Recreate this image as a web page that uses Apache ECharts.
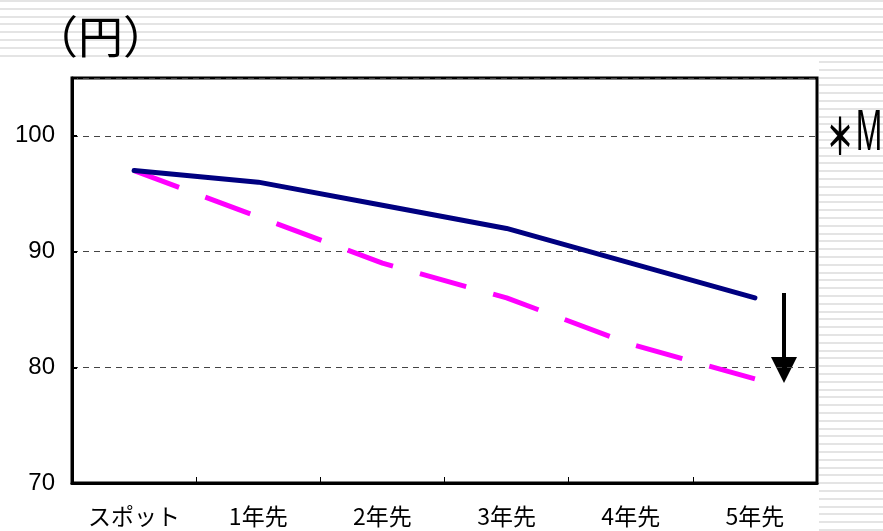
<!DOCTYPE html>
<html>
<head>
<meta charset="utf-8">
<script src="https://cdn.jsdelivr.net/npm/echarts@6/dist/echarts.min.js"></script>
<style>
  html, body { margin:0; padding:0; background:#fff; }
  #wrap { position:relative; width:883px; height:531px; overflow:hidden; }
  .stripes { position:absolute; background: repeating-linear-gradient(to bottom, #e4e4e4 0px, #e4e4e4 2px, #ffffff 2px, #ffffff 7.8px); }
  #top { left:0; top:0; width:883px; height:57px; }
  #right { left:819px; top:61px; width:64px; height:470px; }
  #chart { position:absolute; left:0; top:0; width:883px; height:531px; }
</style>
</head>
<body>
<div id="wrap">
  <div class="stripes" id="top"></div>
  <div class="stripes" id="right"></div>
  <div id="chart"></div>
</div>
<script>
const categories = ['スポット', '1年先', '2年先', '3年先', '4年先', '5年先'];
const seriesSolid = [97, 96, 94, 92, 89, 86];
const seriesDashed = [97, 93, 89, 86, 82, 79];
const yTicks = [70, 80, 90, 100];

const chart = echarts.init(document.getElementById('chart'), null, { renderer: 'canvas' });
const option = {
  backgroundColor: 'transparent',
  animation: false,
  grid: { left: 72, right: 66, top: 78, bottom: 48, show: true, backgroundColor: '#fff', borderColor: '#000', borderWidth: 3 },
  xAxis: {
    type: 'category',
    data: categories,
    boundaryGap: true,
    axisLine: { show: true, lineStyle: { color: '#000', width: 3 } },
    axisTick: { show: true, inside: true, length: 6, lineStyle: { color: '#000', width: 1 } },
    axisLabel: { color: '#000', fontSize: 23, fontFamily: '"Noto Sans CJK JP", sans-serif', margin: 22 },
    splitLine: { show: false }
  },
  yAxis: {
    type: 'value',
    min: 70, max: 105, interval: 10,
    axisLine: { show: true, lineStyle: { color: '#000', width: 3 } },
    axisTick: { show: true, inside: true, length: 5, lineStyle: { color: '#000', width: 2 } },
    axisLabel: {
      color: '#000', fontSize: 24, fontFamily: '"Liberation Sans", Arial, sans-serif', margin: 17,
      formatter: v => (yTicks.indexOf(v) >= 0 ? String(v) : '')
    },
    splitLine: { show: true, lineStyle: { color: '#444', width: 1, type: [6, 5] } }
  },
  series: [
    {
      type: 'line', data: seriesSolid, symbol: 'none',
      lineStyle: { color: '#000080', width: 5, cap: 'round' }, z: 3
    },
    {
      type: 'line', data: seriesDashed, symbol: 'none',
      lineStyle: { color: '#FF00FF', width: 5, type: [48, 28], cap: 'butt' }, z: 2
    }
  ],
  graphic: [
    { type: 'text', x: 33, y: 37, style: { text: '（円）', font: '45px "Noto Sans CJK JP", sans-serif', fill: '#000', align: 'left', verticalAlign: 'middle' } },
    { type: 'text', x: 840, y: 136, scaleX: 0.55, style: { text: '＊', font: 'bold 50px "Noto Sans CJK JP", sans-serif', fill: '#000', align: 'center', verticalAlign: 'middle' } },
    { type: 'text', x: 869, y: 134, scaleX: 0.55, style: { text: 'M', font: '58px "Liberation Sans", sans-serif', fill: '#000', align: 'center', verticalAlign: 'middle' } },
    { type: 'line', shape: { x1: 784, y1: 293, x2: 784, y2: 360 }, style: { stroke: '#000', lineWidth: 4 } },
    { type: 'polygon', shape: { points: [[771, 357], [797, 357], [784, 383]] }, style: { fill: '#000' } }
  ]
};
chart.setOption(option);
</script>
</body>
</html>
